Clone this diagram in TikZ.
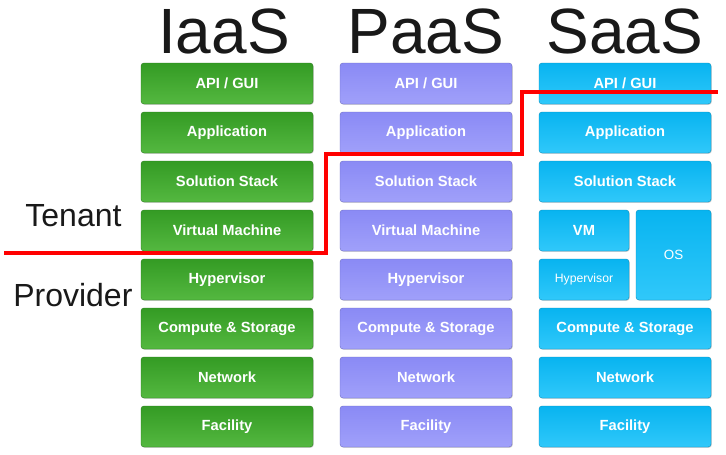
\documentclass[tikz,border=0pt]{standalone}
\usepackage{fontspec}
\setmainfont{Liberation Sans}
\usetikzlibrary{shadows}

\definecolor{iaasgreen}{RGB}{52,155,36}
\definecolor{iaaslight}{RGB}{84,184,64}
\definecolor{paasblue}{RGB}{138,138,245}
\definecolor{paaslight}{RGB}{160,160,250}
\definecolor{saascyan}{RGB}{8,180,240}
\definecolor{saaslight}{RGB}{48,200,250}

\tikzset{
  layer/.style={rounded corners=3pt,minimum width=172pt,minimum height=41pt,
    inner sep=0pt,text=white,font=\fontsize{14.7}{16}\selectfont\bfseries,
    drop shadow={opacity=0.35,shadow xshift=0.8pt,shadow yshift=-0.8pt}},
  iaas/.style={layer,draw=iaasgreen!80!black,line width=0.4pt,
    top color=iaasgreen,middle color=iaasgreen,bottom color=iaaslight},
  paas/.style={layer,draw=paasblue!80!black,line width=0.4pt,
    top color=paasblue,middle color=paasblue,bottom color=paaslight},
  saas/.style={layer,draw=saascyan!80!black,line width=0.4pt,
    top color=saascyan,middle color=saascyan,bottom color=saaslight},
  title/.style={font=\fontsize{64}{64}\selectfont,text=black!90},
  side/.style={font=\fontsize{32}{34}\selectfont,text=black!90},
  border/.style={red,line width=3.5pt}
}

\begin{document}
\begin{tikzpicture}[x=1pt,y=-1pt]
\useasboundingbox[fill=white] (0,0) rectangle (726,455);

% column titles
\node[title,anchor=base] (tiaas) at (224,53) {IaaS};
\node[title,anchor=base] (tpaas) at (426,53) {PaaS};
\node[title,anchor=base] (tsaas) at (625,53) {SaaS};

% IaaS stack
\node[iaas] (i1) at (227,83.5) {API / GUI};
\node[iaas] (i2) at (227,132.5) {Application};
\node[iaas] (i3) at (227,181.5) {Solution Stack};
\node[iaas] (i4) at (227,230.5) {Virtual Machine};
\node[iaas] (i5) at (227,279.5) {Hypervisor};
\node[iaas] (i6) at (227,328.5) {Compute \& Storage};
\node[iaas] (i7) at (227,377.5) {Network};
\node[iaas] (i8) at (227,426.5) {Facility};

% PaaS stack
\node[paas] (p1) at (426,83.5) {API / GUI};
\node[paas] (p2) at (426,132.5) {Application};
\node[paas] (p3) at (426,181.5) {Solution Stack};
\node[paas] (p4) at (426,230.5) {Virtual Machine};
\node[paas] (p5) at (426,279.5) {Hypervisor};
\node[paas] (p6) at (426,328.5) {Compute \& Storage};
\node[paas] (p7) at (426,377.5) {Network};
\node[paas] (p8) at (426,426.5) {Facility};

% SaaS stack
\node[saas] (s1) at (625,83.5) {API / GUI};
\node[saas] (s2) at (625,132.5) {Application};
\node[saas] (s3) at (625,181.5) {Solution Stack};
\node[saas,minimum width=90pt] (svm) at (584,230.5) {VM};
\node[saas,minimum width=90pt,font=\fontsize{12.2}{14}\selectfont] (shyp) at (584,279.5) {Hypervisor};
\node[saas,minimum width=75pt,minimum height=90pt,font=\fontsize{13.4}{15}\selectfont] (sos) at (673.5,255) {OS};
\node[saas] (s6) at (625,328.5) {Compute \& Storage};
\node[saas] (s7) at (625,377.5) {Network};
\node[saas] (s8) at (625,426.5) {Facility};

% tenant / provider split
\node[side,anchor=base east] (tenant) at (125,226) {Tenant};
\node[side,anchor=base east] (provider) at (136,306) {Provider};
\draw[border] (4,253) -| (326,154) -| (522,92) -- (718,92);
\end{tikzpicture}
\end{document}
